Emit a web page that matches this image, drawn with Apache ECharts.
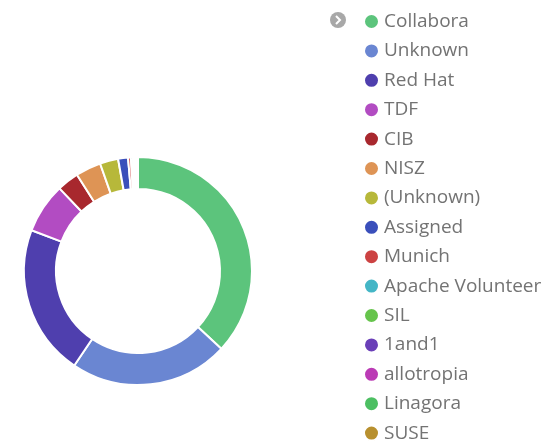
<!DOCTYPE html>
<html>
<head>
<meta charset="utf-8">
<script src="https://cdn.jsdelivr.net/npm/echarts@6/dist/echarts.min.js"></script>
<style>
  html, body { margin: 0; padding: 0; background: #fff; }
  #chart { width: 550px; height: 445px; }
</style>
</head>
<body>
<div id="chart"></div>
<script>
var names = ['Collabora', 'Unknown', 'Red Hat', 'TDF', 'CIB', 'NISZ', '(Unknown)', 'Assigned',
  'Munich', 'Apache Volunteer', 'SIL', '1and1', 'allotropia', 'Linagora', 'SUSE']
var values = [370, 225, 214, 71, 31, 36, 26, 14, 4, 3, 2, 2, 1, 1, 1]
var colors = ['#5cc47c', '#6a86d2', '#4f3fae', '#b24cc2', '#a8282e', '#de9455', '#b7b83a', '#3a4fbb',
  '#cc4242', '#44b6c6', '#66c44c', '#6a3fb8', '#bb3bb5', '#4cbf62', '#b8902f']

var chart = echarts.init(document.getElementById('chart'))

var pieData = names.map(function(n, i) {
  return { name: n, value: values[i] }
})

chart.setOption({
  color: colors,
  legend: {
    orient: 'vertical',
    left: 358,
    top: 7,
    height: 438,
    icon: 'circle',
    itemWidth: 15,
    itemHeight: 15,
    itemGap: 10.4,
    textStyle: {
      fontFamily: 'Open Sans',
      fontSize: 19,
      color: '#737373'
    },
    data: names
  },
  graphic: [{
    type: 'circle',
    shape: { cx: 338, cy: 20, r: 8 },
    style: { fill: '#a8a8a8' }
  }, {
    type: 'polyline',
    shape: { points: [[336, 16], [340, 20], [336, 24]] },
    style: { stroke: '#fff', lineWidth: 2, fill: null }
  }],
  series: [{
    type: 'pie',
    center: [138, 271],
    radius: [82, 114],
    startAngle: 90,
    label: { show: false },
    labelLine: { show: false },
    itemStyle: {
      borderColor: '#fff',
      borderWidth: 2
    },
    data: pieData
  }]
})
</script>
</body>
</html>
